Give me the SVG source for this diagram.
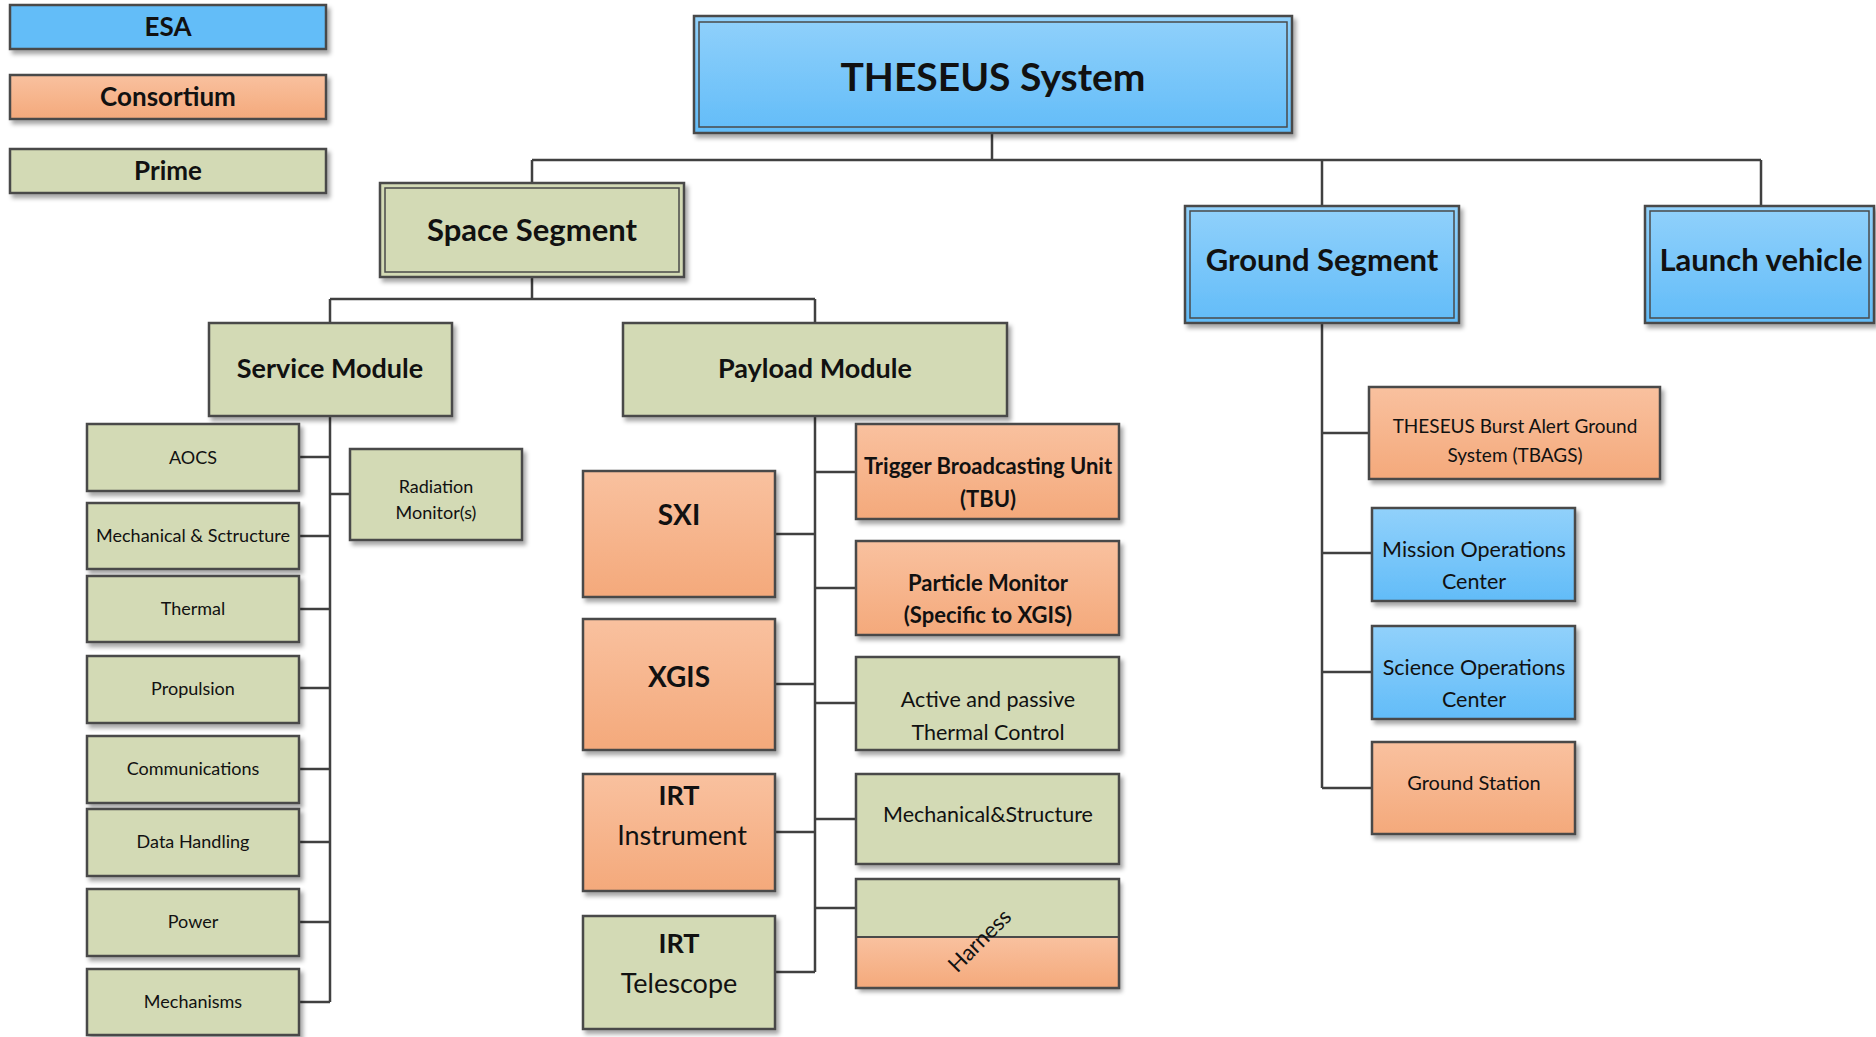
<svg xmlns="http://www.w3.org/2000/svg" width="1876" height="1037" viewBox="0 0 1876 1037">
  <defs>
    <linearGradient id="gBlue" x1="0" y1="0" x2="0" y2="1">
      <stop offset="0" stop-color="#91D1FB"/>
      <stop offset="1" stop-color="#62BCF8"/>
    </linearGradient>
    <linearGradient id="gOrange" x1="0" y1="0" x2="0" y2="1">
      <stop offset="0" stop-color="#F9C19F"/>
      <stop offset="1" stop-color="#F4A97B"/>
    </linearGradient>
    <filter id="shadow" x="-10%" y="-10%" width="130%" height="140%">
      <feDropShadow dx="3" dy="4" stdDeviation="2" flood-color="#000" flood-opacity="0.35"/>
    </filter>
  </defs>
  <style>
    .box { stroke: #4a4a4a; stroke-width: 2.5; filter: url(#shadow); }
    .inner { fill: none; stroke: #4a4a4a; stroke-width: 1.5; }
    .blue { fill: url(#gBlue); }
    .esa { fill: #63BDF8; }
    .orange { fill: url(#gOrange); }
    .green { fill: #D3DAB5; }
    .conn { fill: none; stroke: #404040; stroke-width: 2.5; }
    text { font-family: Lato, "Open Sans", "Liberation Sans", sans-serif; fill: #111; text-anchor: middle; }
    .b { font-weight: bold; }
    .s { font-size: 18px; }
    .m { font-size: 21.5px; }
  </style>

  <rect width="1876" height="1037" fill="#fff"/>

  <!-- legend -->
  <g id="legend-esa">
    <rect class="box esa" x="10" y="5" width="316" height="44"/>
    <text class="b" x="168" y="36" font-size="26">ESA</text>
  </g>
  <g id="legend-consortium">
    <rect class="box orange" x="10" y="75" width="316" height="44"/>
    <text class="b" x="168" y="106" font-size="26">Consortium</text>
  </g>
  <g id="legend-prime">
    <rect class="box green" x="10" y="149" width="316" height="44"/>
    <text class="b" x="168" y="180" font-size="26">Prime</text>
  </g>

  <!-- tree connectors -->
  <g id="connectors">
    <path class="conn" d="M992 133V160M532 160H1761M532 160V183M1322 160V206M1761 160V206"/>
    <path class="conn" d="M532 277V299M330 299H815M330 299V323M815 299V323"/>
    <path class="conn" d="M330 416V1002M299 457H330M299 536H330M299 609H330M299 688H330M299 769H330M299 842H330M299 922H330M299 1002H330M330 494H350"/>
    <path class="conn" d="M815 416V972M815 472H856M815 588H856M815 703H856M815 819H856M815 908H856M775 534H815M775 684H815M775 832H815M775 972H815"/>
    <path class="conn" d="M1322 323V788M1322 433H1369M1322 553H1372M1322 672H1372M1322 788H1372"/>
  </g>

  <!-- top level -->
  <g id="theseus-system">
    <rect class="box blue" x="694" y="16" width="598" height="117"/>
    <rect class="inner" x="699" y="22" width="588" height="105"/>
    <text class="b" x="993" y="91" font-size="39">THESEUS System</text>
  </g>

  <g id="space-segment">
    <rect class="box green" x="380" y="183" width="304" height="94"/>
    <rect class="inner" x="385" y="188" width="294" height="84"/>
    <text class="b" x="532" y="241" font-size="31">Space Segment</text>
  </g>

  <g id="ground-segment">
    <rect class="box blue" x="1185" y="206" width="274" height="117"/>
    <rect class="inner" x="1190" y="211" width="264" height="107"/>
    <text class="b" x="1322" y="271" font-size="31">Ground Segment</text>
  </g>

  <g id="launch-vehicle">
    <rect class="box blue" x="1645" y="206" width="229" height="117"/>
    <rect class="inner" x="1650" y="211" width="219" height="107"/>
    <text class="b" x="1761" y="271" font-size="31">Launch vehicle</text>
  </g>

  <!-- space segment modules -->
  <g id="service-module">
    <rect class="box green" x="209" y="323" width="243" height="93"/>
    <text class="b" x="330" y="378" font-size="27">Service Module</text>
  </g>
  <g id="payload-module">
    <rect class="box green" x="623" y="323" width="384" height="93"/>
    <text class="b" x="815" y="378" font-size="27">Payload Module</text>
  </g>

  <!-- service module units -->
  <g id="aocs">
    <rect class="box green" x="87" y="424" width="212" height="67"/>
    <text class="s" x="193" y="464">AOCS</text>
  </g>
  <g id="mech-structure-sm">
    <rect class="box green" x="87" y="503" width="212" height="66"/>
    <text class="s" x="193" y="542">Mechanical &amp; Sctructure</text>
  </g>
  <g id="thermal">
    <rect class="box green" x="87" y="576" width="212" height="66"/>
    <text class="s" x="193" y="615">Thermal</text>
  </g>
  <g id="propulsion">
    <rect class="box green" x="87" y="656" width="212" height="67"/>
    <text class="s" x="193" y="695">Propulsion</text>
  </g>
  <g id="communications">
    <rect class="box green" x="87" y="736" width="212" height="67"/>
    <text class="s" x="193" y="775">Communications</text>
  </g>
  <g id="data-handling">
    <rect class="box green" x="87" y="809" width="212" height="67"/>
    <text class="s" x="193" y="848">Data Handling</text>
  </g>
  <g id="power">
    <rect class="box green" x="87" y="889" width="212" height="67"/>
    <text class="s" x="193" y="928">Power</text>
  </g>
  <g id="mechanisms">
    <rect class="box green" x="87" y="969" width="212" height="66"/>
    <text class="s" x="193" y="1008">Mechanisms</text>
  </g>
  <g id="radiation-monitor">
    <rect class="box green" x="350" y="449" width="172" height="91"/>
    <text class="s" x="436" y="493">Radiation</text>
    <text class="s" x="436" y="519">Monitor(s)</text>
  </g>

  <!-- payload units -->
  <g id="sxi">
    <rect class="box orange" x="583" y="471" width="192" height="126"/>
    <text class="b" x="679" y="525" font-size="28">SXI</text>
  </g>
  <g id="xgis">
    <rect class="box orange" x="583" y="619" width="192" height="131"/>
    <text class="b" x="679" y="687" font-size="28">XGIS</text>
  </g>
  <g id="irt-instrument">
    <rect class="box orange" x="583" y="774" width="192" height="117"/>
    <text class="b" x="679" y="805" font-size="27">IRT</text>
    <text x="682" y="845" font-size="27">Instrument</text>
  </g>
  <g id="irt-telescope">
    <rect class="box green" x="583" y="916" width="192" height="113"/>
    <text class="b" x="679" y="953" font-size="27">IRT</text>
    <text x="679" y="993" font-size="27">Telescope</text>
  </g>
  <g id="tbu">
    <rect class="box orange" x="856" y="424" width="263" height="95"/>
    <text class="b" x="988" y="474" font-size="22">Trigger Broadcasting Unit</text>
    <text class="b" x="988" y="507" font-size="22">(TBU)</text>
  </g>
  <g id="particle-monitor">
    <rect class="box orange" x="856" y="541" width="263" height="94"/>
    <text class="b" x="988" y="591" font-size="22">Particle Monitor</text>
    <text class="b" x="988" y="623" font-size="22">(Specific to XGIS)</text>
  </g>
  <g id="thermal-control">
    <rect class="box green" x="856" y="657" width="263" height="93"/>
    <text class="m" x="988" y="707">Active and passive</text>
    <text class="m" x="988" y="740">Thermal Control</text>
  </g>
  <g id="mech-structure-pm">
    <rect class="box green" x="856" y="774" width="263" height="90"/>
    <text class="m" x="988" y="822" font-size="22">Mechanical&amp;Structure</text>
  </g>
  <g id="harness">
    <g filter="url(#shadow)">
      <rect class="green" x="856" y="879" width="263" height="58"/>
      <rect class="orange" x="856" y="937" width="263" height="51"/>
    </g>
    <rect x="856" y="879" width="263" height="109" fill="none" stroke="#4a4a4a" stroke-width="2.5"/>
    <line x1="856" y1="937" x2="1119" y2="937" stroke="#4a4a4a" stroke-width="2"/>
    <text x="980" y="948" font-size="22" transform="rotate(-45 980 941)">Harness</text>
  </g>

  <!-- ground segment units -->
  <g id="tbags">
    <rect class="box orange" x="1369" y="387" width="291" height="92"/>
    <text x="1515" y="433" font-size="19">THESEUS Burst Alert Ground</text>
    <text x="1515" y="462" font-size="19">System (TBAGS)</text>
  </g>
  <g id="mission-ops">
    <rect class="box blue" x="1372" y="508" width="203" height="93"/>
    <text class="m" x="1474" y="557">Mission Operations</text>
    <text class="m" x="1474" y="589">Center</text>
  </g>
  <g id="science-ops">
    <rect class="box blue" x="1372" y="626" width="203" height="93"/>
    <text class="m" x="1474" y="675">Science Operations</text>
    <text class="m" x="1474" y="707">Center</text>
  </g>
  <g id="ground-station">
    <rect class="box orange" x="1372" y="742" width="203" height="92"/>
    <text x="1474" y="790" font-size="20">Ground Station</text>
  </g>
</svg>
